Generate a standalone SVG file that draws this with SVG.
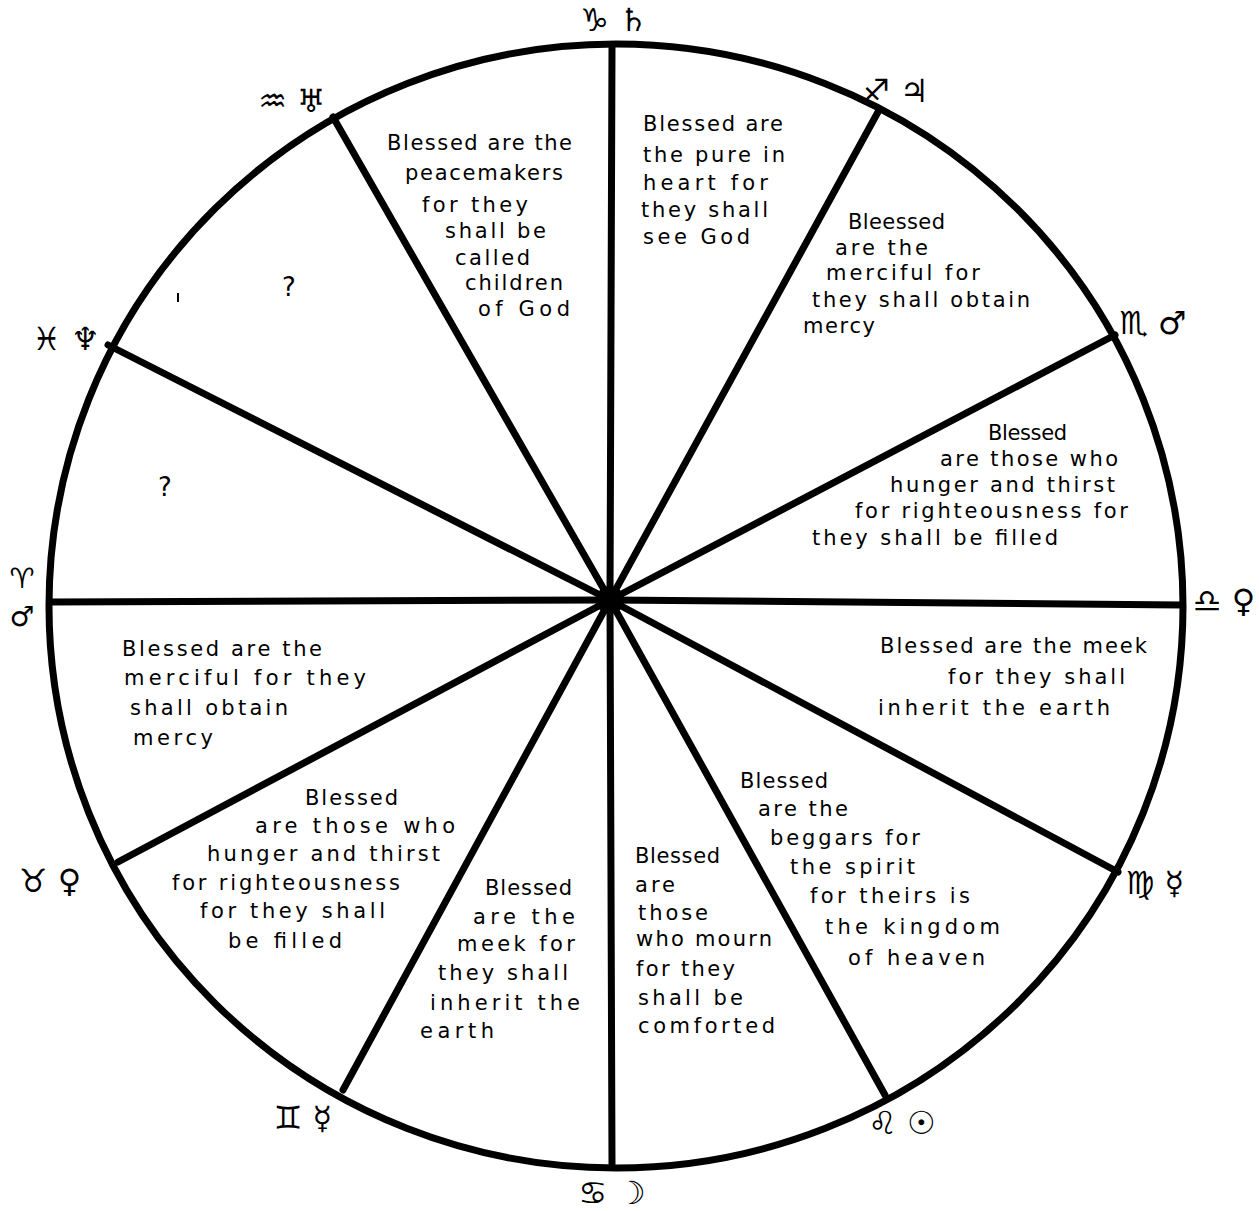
<svg xmlns="http://www.w3.org/2000/svg" width="1259" height="1211" viewBox="0 0 1259 1211">
<style>
.t{font-family:"DejaVu Sans","Liberation Sans",sans-serif;font-size:21px;fill:#000}
.s{font-family:"DejaVu Sans","Noto Sans",sans-serif;font-size:32px;fill:#000;text-anchor:middle}
.sp{stroke:#000;stroke-width:7;stroke-linecap:round;fill:none}
</style>
<rect width="1259" height="1211" fill="#fff"/>
<g id="wheel">
<ellipse cx="616" cy="606" rx="567" ry="562" fill="none" stroke="#000" stroke-width="7"/>
</g>
<g id="connectors" class="sp">
<line x1="610" y1="600" x2="612" y2="46"/>
<line x1="610" y1="600" x2="878" y2="112"/>
<line x1="610" y1="600" x2="1115" y2="335"/>
<line x1="610" y1="600" x2="1182" y2="605"/>
<line x1="610" y1="600" x2="1118" y2="872"/>
<line x1="610" y1="600" x2="885" y2="1095"/>
<line x1="610" y1="600" x2="612" y2="1166"/>
<line x1="610" y1="600" x2="343" y2="1090"/>
<line x1="610" y1="600" x2="118" y2="862"/>
<line x1="610" y1="600" x2="50" y2="602"/>
<line x1="610" y1="600" x2="108" y2="345"/>
<line x1="610" y1="600" x2="333" y2="117"/>
</g>
<g id="hub"><circle cx="610" cy="600" r="14" fill="#000"/></g>
<g id="signs">
<text class="s" x="614" y="31">♑ ♄</text>
<text class="s" x="895" y="102">♐ ♃</text>
<text class="s" x="1153" y="334">♏ ♂</text>
<text class="s" x="1224" y="612">♎ ♀</text>
<text class="s" x="1155" y="894">♍ ☿</text>
<text class="s" x="902" y="1134">♌ ☉</text>
<text class="s" x="612" y="1204">♋ ☽</text>
<text class="s" x="303" y="1129">♊ ☿</text>
<text class="s" x="50" y="892">♉ ♀</text>
<text class="s" x="22" y="588" style="font-size:28px">♈</text>
<text class="s" x="22" y="626" style="font-size:28px">♂</text>
<text class="s" x="66" y="350">♓ ♆</text>
<text class="s" x="292" y="112">♒ ♅</text>
</g>
<g id="seg-peacemakers" class="t">
<text x="387" y="150" textLength="185">Blessed are the</text>
<text x="405" y="180" textLength="158">peacemakers</text>
<text x="422" y="212" textLength="106">for they</text>
<text x="445" y="238" textLength="101">shall be</text>
<text x="455" y="265" textLength="75">called</text>
<text x="465" y="290" textLength="98">children</text>
<text x="478" y="316" textLength="92">of God</text>
</g>
<g id="seg-pure" class="t">
<text x="643" y="131" textLength="140">Blessed are</text>
<text x="643" y="162" textLength="142">the pure in</text>
<text x="643" y="190" textLength="125">heart for</text>
<text x="641" y="217" textLength="127">they shall</text>
<text x="643" y="244" textLength="107">see God</text>
</g>
<g id="seg-merciful-r" class="t">
<text x="848" y="229" textLength="97">Bleessed</text>
<text x="835" y="255" textLength="93">are the</text>
<text x="826" y="280" textLength="154">merciful for</text>
<text x="812" y="307" textLength="218">they shall obtain</text>
<text x="803" y="333" textLength="72">mercy</text>
</g>
<g id="seg-hunger-r" class="t">
<text x="988" y="440" textLength="79">Blessed</text>
<text x="940" y="466" textLength="178">are those who</text>
<text x="890" y="492" textLength="225">hunger and thirst</text>
<text x="855" y="518" textLength="273">for righteousness for</text>
<text x="812" y="545" textLength="246">they shall be filled</text>
</g>
<g id="seg-meek-r" class="t">
<text x="880" y="653" textLength="267">Blessed are the meek</text>
<text x="948" y="684" textLength="177">for they shall</text>
<text x="878" y="715" textLength="232">inherit the earth</text>
</g>
<g id="seg-beggars" class="t">
<text x="740" y="788" textLength="88">Blessed</text>
<text x="758" y="816" textLength="90">are the</text>
<text x="770" y="845" textLength="150">beggars for</text>
<text x="790" y="874" textLength="125">the spirit</text>
<text x="810" y="903" textLength="160">for theirs is</text>
<text x="825" y="934" textLength="175">the kingdom</text>
<text x="848" y="965" textLength="137">of heaven</text>
</g>
<g id="seg-mourn" class="t">
<text x="635" y="863" textLength="85">Blessed</text>
<text x="635" y="892" textLength="40">are</text>
<text x="638" y="920" textLength="70">those</text>
<text x="636" y="946" textLength="136">who mourn</text>
<text x="636" y="976" textLength="99">for they</text>
<text x="638" y="1005" textLength="105">shall be</text>
<text x="638" y="1033" textLength="137">comforted</text>
</g>
<g id="seg-meek-l" class="t">
<text x="485" y="895" textLength="87">Blessed</text>
<text x="473" y="924" textLength="102">are the</text>
<text x="457" y="951" textLength="118">meek for</text>
<text x="438" y="980" textLength="130">they shall</text>
<text x="430" y="1010" textLength="150">inherit the</text>
<text x="420" y="1038" textLength="74">earth</text>
</g>
<g id="seg-hunger-l" class="t">
<text x="305" y="805" textLength="93">Blessed</text>
<text x="255" y="833" textLength="200">are those who</text>
<text x="207" y="861" textLength="233">hunger and thirst</text>
<text x="172" y="890" textLength="228">for righteousness</text>
<text x="200" y="918" textLength="185">for they shall</text>
<text x="228" y="948" textLength="114">be filled</text>
</g>
<g id="seg-merciful-l" class="t">
<text x="122" y="656" textLength="200">Blessed are the</text>
<text x="124" y="685" textLength="242">merciful for they</text>
<text x="130" y="715" textLength="158">shall obtain</text>
<text x="133" y="745" textLength="80">mercy</text>
</g>
<g id="seg-unknown-1">
<text class="t" x="289" y="296" text-anchor="middle" style="font-size:26px">?</text>
<line x1="178" y1="293" x2="178" y2="302" stroke="#000" stroke-width="2"/>
</g>
<g id="seg-unknown-2">
<text class="t" x="165" y="496" text-anchor="middle" style="font-size:26px">?</text>
</g>
</svg>
